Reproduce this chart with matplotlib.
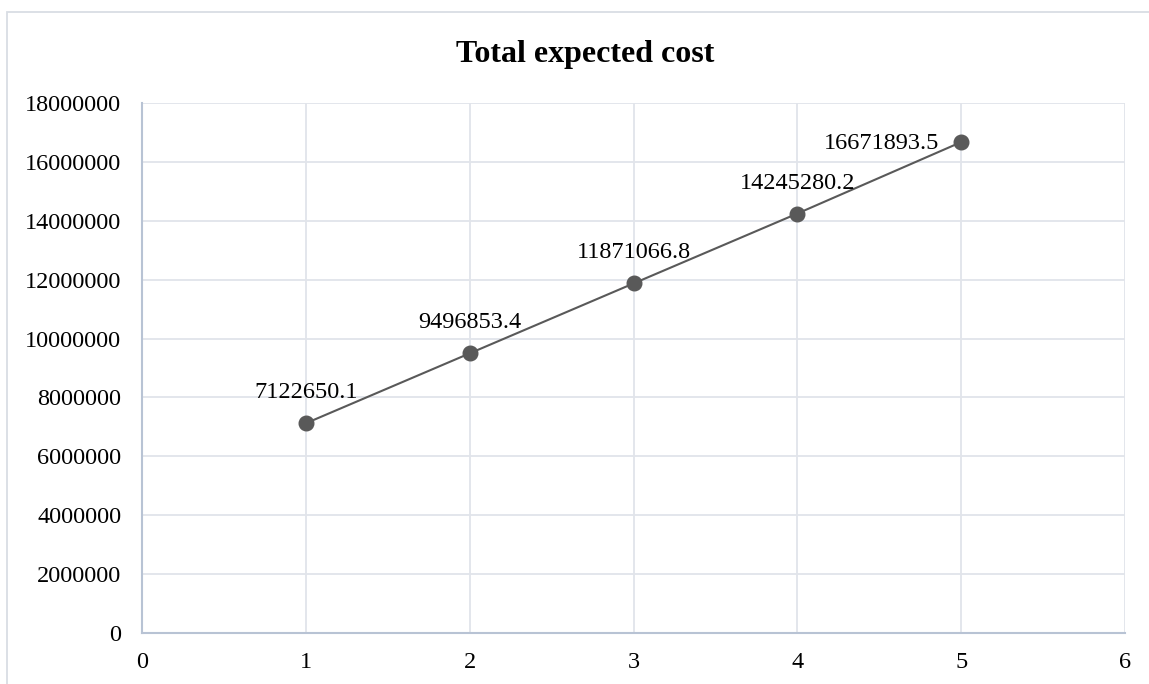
import matplotlib
matplotlib.use("Agg")
import matplotlib.pyplot as plt
from matplotlib.patches import Rectangle

x_values = [1, 2, 3, 4, 5]
total_cost = [7122650.1, 9496853.4, 11871066.8, 14245280.2, 16671893.5]
labels = ["7122650.1", "9496853.4", "11871066.8", "14245280.2", "16671893.5"]
y_ticks = [0, 2000000, 4000000, 6000000, 8000000, 10000000, 12000000, 14000000, 16000000, 18000000]
x_ticks = [0, 1, 2, 3, 4, 5, 6]
title = "Total expected cost"

plt.rcParams['font.family'] = ['Liberation Serif', 'DejaVu Serif']

fig = plt.figure(figsize=(11.49, 6.84), dpi=100)
fig.patches.append(Rectangle((7/1149, -0.1), 1.2, (684-12)/684 + 0.1, transform=fig.transFigure,
                             fill=False, edgecolor='#D9DDE4', linewidth=1.3, zorder=0))

ax = fig.add_axes([142/1149, (684-633)/684, 983/1149, 530/684])
ax.set_xlim(0, 6)
ax.set_ylim(0, 18000000)
ax.set_xticks(x_ticks)
ax.set_yticks(y_ticks)
ax.set_xticklabels([str(t) for t in x_ticks])
ax.set_yticklabels([str(t) for t in y_ticks])
ax.grid(True, color='#E1E4EA', linewidth=1.3)
ax.set_axisbelow(True)
for s in ['top', 'right']:
    ax.spines[s].set_visible(False)
for s in ['left', 'bottom']:
    ax.spines[s].set_color('#B8C3D4')
    ax.spines[s].set_linewidth(1.5)
ax.tick_params(length=0, labelsize=17.5, colors='black')
ax.tick_params(axis='y', pad=15)
ax.tick_params(axis='x', pad=14)

ax.plot(x_values, total_cost, color='#595959', linewidth=1.5, marker='o',
        markersize=10.5, markerfacecolor='#595959', markeredgecolor='#595959', zorder=3)

offsets = [(0, 22), (0, 22), (0, 22), (0, 22), (-16, -1)]
aligns = ['center', 'center', 'center', 'center', 'right']
for xv, yv, lab, off, ha in zip(x_values, total_cost, labels, offsets, aligns):
    ax.annotate(lab, (xv, yv), xytext=off, textcoords='offset points',
                ha=ha, va='center', fontsize=17.5, color='black')

fig.text(585/1149, 1 - 62/684, title, ha='center', va='baseline', fontsize=23, fontweight='bold')

fig.savefig('out.png', dpi=100)
